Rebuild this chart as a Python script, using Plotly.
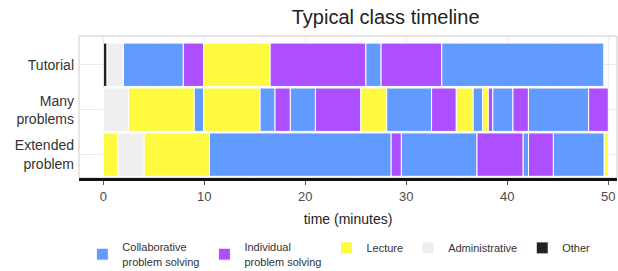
import plotly.graph_objects as go

# ---- data ----
row_labels = ["Tutorial", "Many<br>problems", "Extended<br>problem"]

tutorial_bounds = [0, 0.35, 1.98, 7.92, 9.94, 16.5, 25.98, 27.5, 33.5, 49.55]
tutorial_acts = ["Other", "Administrative", "Collaborative", "Individual", "Lecture",
                 "Individual", "Collaborative", "Individual", "Collaborative"]

many_bounds = [0, 2.5, 8.98, 9.94, 15.5, 17.0, 18.5, 21.0, 25.5, 28.05, 32.5, 34.95,
               36.6, 37.55, 38.1, 38.55, 40.56, 42.08, 48.05, 50.0]
many_acts = ["Administrative", "Lecture", "Collaborative", "Lecture", "Collaborative",
             "Individual", "Collaborative", "Individual", "Lecture", "Collaborative",
             "Individual", "Lecture", "Collaborative", "Lecture", "Individual",
             "Collaborative", "Individual", "Collaborative", "Individual"]

extended_bounds = [0, 1.42, 4.03, 10.5, 28.5, 29.5, 37.0, 41.55, 42.1, 44.55, 49.6, 50.0]
extended_acts = ["Lecture", "Administrative", "Lecture", "Collaborative", "Individual",
                 "Collaborative", "Individual", "Collaborative", "Individual",
                 "Collaborative", "Lecture"]

categories = ["Collaborative", "Individual", "Lecture", "Administrative", "Other"]
legend_names = ["Collaborative<br>problem solving", "Individual<br>problem solving",
                "Lecture", "Administrative", "Other"]
colors = ["#619BFF", "#AD4FFF", "#FDFA40", "#EFEFEF", "#222222"]

x_ticks = [0, 10, 20, 30, 40, 50]

# ---- build ----
rows = [
    ("Tutorial", tutorial_bounds, tutorial_acts),
    ("Many<br>problems", many_bounds, many_acts),
    ("Extended<br>problem", extended_bounds, extended_acts),
]

fig = go.Figure()
for cat, name, col in zip(categories, legend_names, colors):
    ys, bases, lens = [], [], []
    for label, bounds, acts in rows:
        for i, a in enumerate(acts):
            if a == cat:
                ys.append(label)
                bases.append(bounds[i])
                lens.append(bounds[i + 1] - bounds[i])
    fig.add_trace(go.Bar(
        y=ys, x=lens, base=bases, orientation="h", name=name,
        marker=dict(color=col, line=dict(color="white", width=1)),
        width=0.965, showlegend=True,
    ))

fig.update_layout(
    width=618, height=271,
    margin=dict(l=79, r=1, t=36, b=93, autoexpand=False),
    paper_bgcolor="white", plot_bgcolor="white",
    barmode="overlay",
    font=dict(family="Liberation Sans, Arial, sans-serif", color="#333333"),
    title=dict(text="Typical class timeline", x=0.624, xanchor="center",
               y=1 - 17 / 271, yanchor="middle", automargin=False,
               font=dict(size=20, color="#222222")),
    xaxis=dict(range=[-2.41, 50.86], tickvals=x_ticks, ticks="outside", ticklen=4,
               tickcolor="#555555", tickfont=dict(size=13, color="#4d4d4d"),
               showgrid=True, gridcolor="#ebebeb", gridwidth=1,
               minor=dict(tickvals=[5, 15, 25, 35, 45], showgrid=True,
                          gridcolor="#f4f4f4", gridwidth=1),
               showline=True, linecolor="#111111", linewidth=3,
               zeroline=False, automargin=False,
               title=dict(text="time (minutes)", font=dict(size=14, color="#222222"),
                          standoff=12)),
    yaxis=dict(categoryorder="array", categoryarray=row_labels[::-1],
               range=[-0.52, 2.64], showgrid=True, gridcolor="#ebebeb",
               tickfont=dict(size=14, color="#333333"), ticks="", zeroline=False,
               ticklabelstandoff=4, automargin=False),
    legend=dict(orientation="h", x=0.483, xanchor="center", y=-0.39, yanchor="top",
                font=dict(size=11, color="#333333"), traceorder="normal",
                itemwidth=30, tracegroupgap=0),
    shapes=[dict(type="rect", xref="paper", yref="paper", x0=0, x1=1, y0=0, y1=1,
                 line=dict(color="#cccccc", width=1), layer="below")],
)

fig.write_html("out.html",
               config={"displayModeBar": False},
               post_script="document.body.style.margin='0';document.body.style.padding='0';")
